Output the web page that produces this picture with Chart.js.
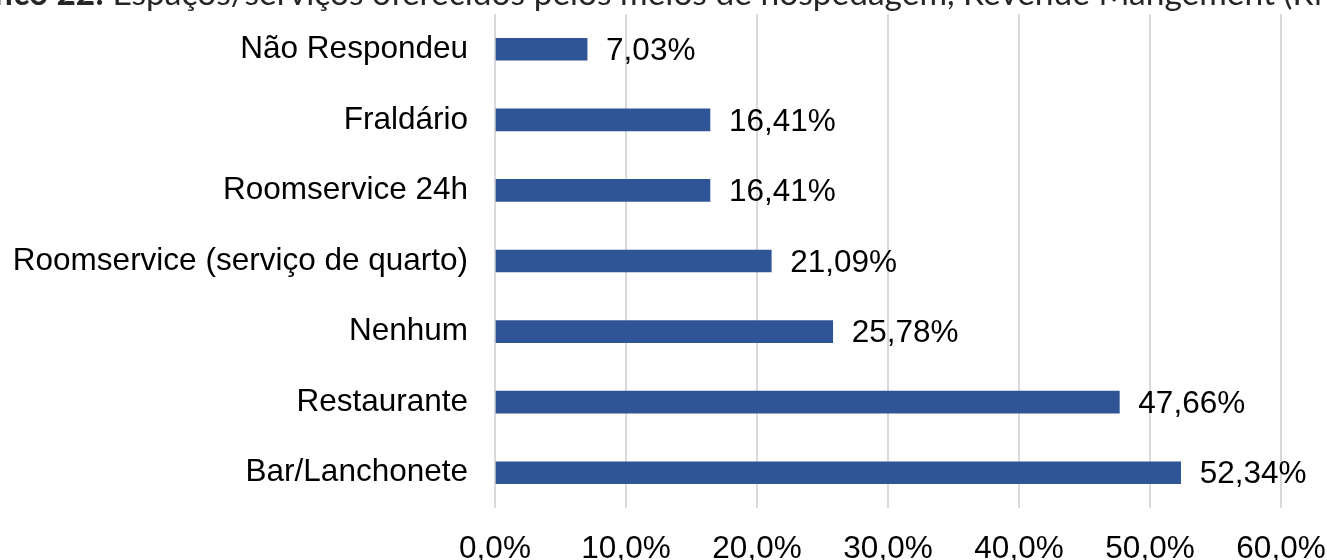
<!DOCTYPE html>
<html>
<head>
<meta charset="utf-8">
<script src="https://cdn.jsdelivr.net/npm/chart.js@4/dist/chart.umd.min.js"></script>
<style>
  html, body { margin: 0; padding: 0; background: #fff; overflow: hidden; }
  #wrap { position: relative; width: 1327px; height: 560px; overflow: hidden; }
  #title {
    position: absolute; left: -60px; top: -24px; white-space: nowrap;
    font-family: Lato, "Open Sans", sans-serif; font-size: 33.5px; line-height: 33.5px; color: #262626;
  }
  #title b { font-weight: 700; }
  canvas { position: absolute; left: 0; top: 0; }
</style>
</head>
<body>
<div id="wrap">
  <canvas id="chart" width="1327" height="560"></canvas>
  <div id="title"><b>Gráfico 22:</b> Espaços/serviços oferecidos pelos meios de hospedagem, Revenue Mangement (RM)</div>
</div>
<script>
// Categories, top to bottom as in the picture
const categories = [
    'Não Respondeu',
    'Fraldário',
    'Roomservice 24h',
    'Roomservice (serviço de quarto)',
    'Nenhum',
    'Restaurante',
    'Bar/Lanchonete'
];
const values = [7.03, 16.41, 16.41, 21.09, 25.78, 47.66, 52.34];
const xTicks = [0, 10, 20, 30, 40, 50, 60];

const fontFamily = '"Liberation Sans", Arial, sans-serif';
const fmt = (v, d) => v.toFixed(d).replace('.', ',') + '%';

// draw value labels at the end of each bar
const valueLabels = {
    id: 'valueLabels',
    afterDatasetsDraw(chart) {
        const ctx = chart.ctx;
        const meta = chart.getDatasetMeta(0);
        ctx.save();
        ctx.font = '31.5px ' + fontFamily;
        ctx.fillStyle = '#000';
        ctx.textAlign = 'left';
        ctx.textBaseline = 'middle';
        meta.data.forEach((bar, i) => {
            ctx.fillText(fmt(values[i], 2), bar.x + 19, bar.y + 2);
        });
        ctx.restore();
    }
};

new Chart(document.getElementById('chart'), {
    type: 'bar',
    data: {
        labels: categories,
        datasets: [{
            data: values,
            backgroundColor: '#2F5597',
            barThickness: 22
        }]
    },
    options: {
        indexAxis: 'y',
        responsive: false,
        animation: false,
        layout: { padding: { top: 14, right: 46, left: 0, bottom: 0 } },
        plugins: { legend: { display: false }, tooltip: { enabled: false } },
        scales: {
            x: {
                min: 0,
                max: 60,
                afterBuildTicks: axis => { axis.ticks = xTicks.map(v => ({ value: v })); },
                afterFit: axis => {
                    axis.height = 52;
                    axis.paddingLeft = 0;
                    axis.paddingRight = 0;
                },
                grid: { color: '#D9D9D9', lineWidth: 2, drawTicks: false },
                border: { display: false },
                ticks: {
                    padding: 22,
                    color: '#000',
                    font: { family: fontFamily, size: 31.5 },
                    callback: v => fmt(v, 1),
                    maxRotation: 0
                }
            },
            y: {
                afterFit: axis => {
                    axis.width = 495;
                    axis.paddingTop = 0;
                    axis.paddingBottom = 0;
                },
                grid: { display: false, drawTicks: false },
                border: { display: false },
                ticks: {
                    padding: 27,
                    color: '#000',
                    font: { family: fontFamily, size: 31.5 }
                }
            }
        }
    },
    plugins: [valueLabels]
});
</script>
</body>
</html>
